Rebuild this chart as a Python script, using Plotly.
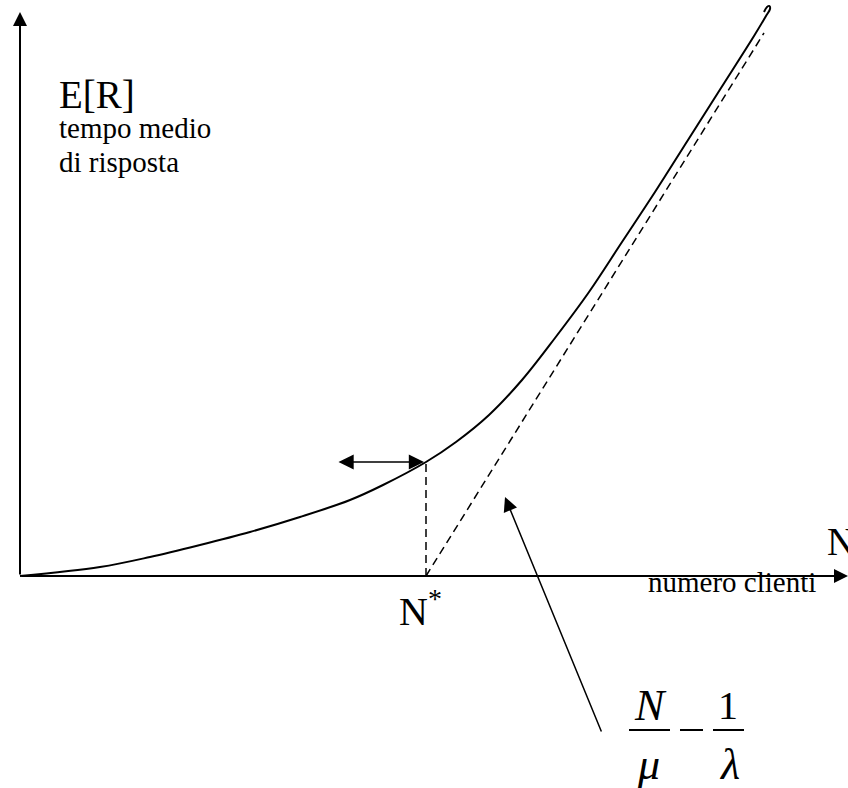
import plotly.graph_objects as go

# Response time curve E[R] versus number of clients N (closed system)
n_curve = [0.0, 8.0, 13.0, 18.0, 23.0, 28.0, 33.0, 36.3, 40.6, 43.6, 46.9, 50.2,
           53.5, 56.9, 60.2, 63.5, 66.8, 70.1, 73.4, 74.6, 75.0, 74.95, 74.7, 74.4]
r_curve = [0.0, 0.9, 1.9, 3.1, 4.4, 5.9, 7.6, 9.1, 11.4, 13.4, 16.1, 19.6,
           23.8, 28.4, 33.4, 38.4, 43.6, 48.8, 54.0, 56.0, 56.7, 57.0, 56.9, 56.4]

# Asymptote N/mu - 1/lambda, starting at the saturation point N*
n_star = 40.6
r_at_n_star = 11.4
n_asym = [n_star, 74.4]
r_asym = [0.0, 54.3]

# Axis extents
x_axis_end = 82.8
y_axis_end = 56.4

BLACK = "black"
SERIF = "Liberation Serif, Times New Roman, serif"

fig = go.Figure()

fig.add_trace(go.Scatter(
    x=n_curve, y=r_curve, mode="lines",
    line=dict(color=BLACK, width=2, shape="spline", smoothing=1.0),
    hoverinfo="skip", showlegend=False))

fig.add_trace(go.Scatter(
    x=n_asym, y=r_asym, mode="lines",
    line=dict(color=BLACK, width=1.5, dash="8px,5px"),
    hoverinfo="skip", showlegend=False))

fig.add_trace(go.Scatter(
    x=[n_star, n_star], y=[0, r_at_n_star], mode="lines",
    line=dict(color=BLACK, width=1.5, dash="8px,5px"),
    hoverinfo="skip", showlegend=False))


def arrow(x, y, ax, ay, width=2, size=1.4, both=False):
    fig.add_annotation(
        x=x, y=y, ax=ax, ay=ay, xref="x", yref="y", axref="x", ayref="y",
        text="", showarrow=True, arrowhead=2, arrowsize=size, arrowwidth=width,
        arrowcolor=BLACK, standoff=0, startstandoff=0,
        arrowside="end+start" if both else "end", startarrowhead=2,
        startarrowsize=size)


# Axes with arrowheads
arrow(0, y_axis_end, 0, 0, width=2, size=1.4)
arrow(x_axis_end, 0, 0, 0, width=2, size=1.4)

# Double arrow marking the knee of the curve
arrow(40.4, r_at_n_star, 31.7, r_at_n_star, width=1.6, size=1.9, both=True)

# Pointer from the asymptote formula
arrow(48.5, 7.9, 58.2, -15.7, width=1.5, size=1.9)


def label(x, y, text, size, anchor="left", italic=False):
    fig.add_annotation(
        x=x, y=y, xref="x", yref="y", text=text, showarrow=False,
        xanchor=anchor, yanchor="middle",
        font=dict(family=SERIF, size=size, color=BLACK,
                  style="italic" if italic else "normal"))


label(3.7, 48.2, "E[R]", 39)
label(3.7, 44.8, "tempo medio", 29)
label(3.7, 41.4, "di risposta", 29)
label(37.7, -3.2, "N<sup>*</sup>", 40)
label(80.5, 3.5, "N", 39)
label(62.6, -0.6, "numero clienti", 29)

# Formula N/mu - 1/lambda built from separate glyphs and fraction bars
label(63.0, -12.9, "N", 44, anchor="center", italic=True)
label(62.8, -18.8, "μ", 44, anchor="center", italic=True)
label(70.75, -12.9, "1", 40, anchor="center")
label(70.95, -18.8, "λ", 44, anchor="center", italic=True)
for x0, x1 in [(60.9, 65.0), (66.0, 68.3), (69.3, 72.4)]:
    fig.add_shape(type="line", x0=x0, x1=x1, y0=-15.4, y1=-15.4,
                  xref="x", yref="y", line=dict(color=BLACK, width=2))

fig.update_layout(
    width=848, height=788,
    margin=dict(l=0, r=0, t=0, b=0),
    paper_bgcolor="white", plot_bgcolor="white",
    xaxis=dict(range=[-2.0, 82.8], visible=False, fixedrange=True),
    yaxis=dict(range=[-21.2, 57.6], visible=False, fixedrange=True),
    showlegend=False,
)

fig.write_html("out.html", config={"displayModeBar": False})
